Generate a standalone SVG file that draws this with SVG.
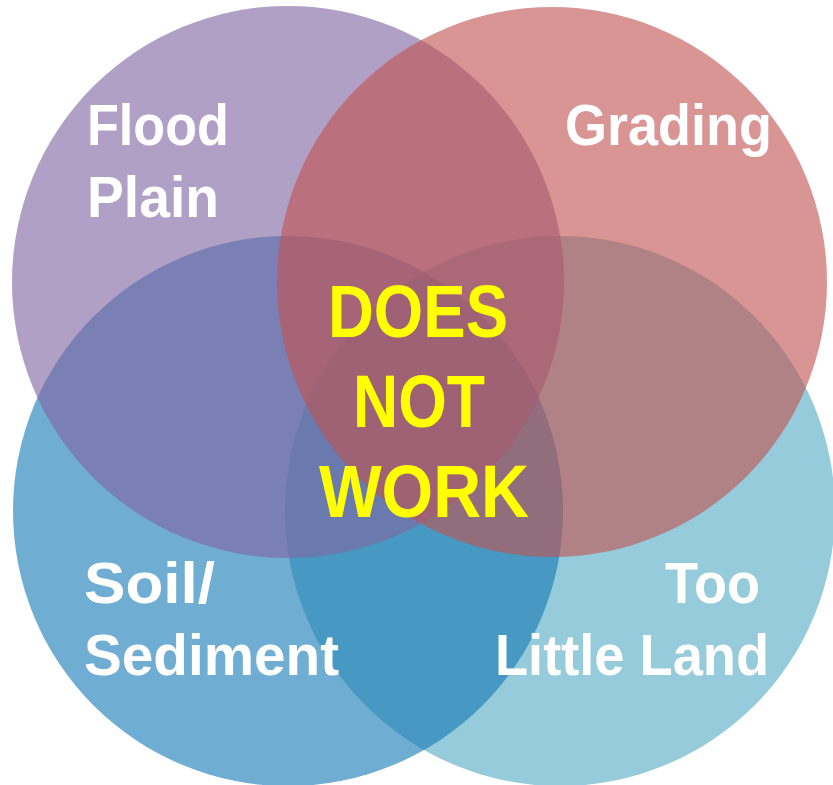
<svg xmlns="http://www.w3.org/2000/svg" width="833" height="785" viewBox="0 0 833 785">
<style>
.c{fill-opacity:0.615;stroke:none}
.w{font-family:"Liberation Sans",Arial,sans-serif;font-weight:bold;font-size:58px;fill:#FFFFFF}
.y{font-family:"Liberation Sans",Arial,sans-serif;font-weight:bold;font-size:75px;fill:#FFFF00}
</style>
<rect width="833" height="785" fill="#FFFFFF"/>
<g id="too-little-land">
<circle class="c" cx="560" cy="511" r="275" fill="#53AAC3"/>
</g>
<g id="soil-sediment">
<circle class="c" cx="288" cy="511" r="275" fill="#167AB6"/>
</g>
<g id="flood-plain">
<circle class="c" cx="288" cy="282" r="276" fill="#8064A1"/>
</g>
<g id="grading">
<circle class="c" cx="552" cy="282" r="275" fill="#C1534F"/>
</g>
<g id="connectors"></g>
<g id="labels">
<text class="w" x="87" y="145" textLength="142" lengthAdjust="spacingAndGlyphs">Flood</text>
<text class="w" x="87" y="217" textLength="132" lengthAdjust="spacingAndGlyphs">Plain</text>
<text class="w" x="565" y="145" textLength="207" lengthAdjust="spacingAndGlyphs">Grading</text>
<text class="w" x="84" y="603" textLength="131" lengthAdjust="spacingAndGlyphs">Soil/</text>
<text class="w" x="84" y="675" textLength="255" lengthAdjust="spacingAndGlyphs">Sediment</text>
<text class="w" x="665" y="603" textLength="95" lengthAdjust="spacingAndGlyphs">Too</text>
<text class="w" x="495" y="675" textLength="274" lengthAdjust="spacingAndGlyphs">Little Land</text>
</g>
<g id="does-not-work">
<text class="y" x="328" y="337" textLength="180" lengthAdjust="spacingAndGlyphs">DOES</text>
<text class="y" x="353" y="427" textLength="132" lengthAdjust="spacingAndGlyphs">NOT</text>
<text class="y" x="319" y="517" textLength="210" lengthAdjust="spacingAndGlyphs">WORK</text>
</g>
</svg>
